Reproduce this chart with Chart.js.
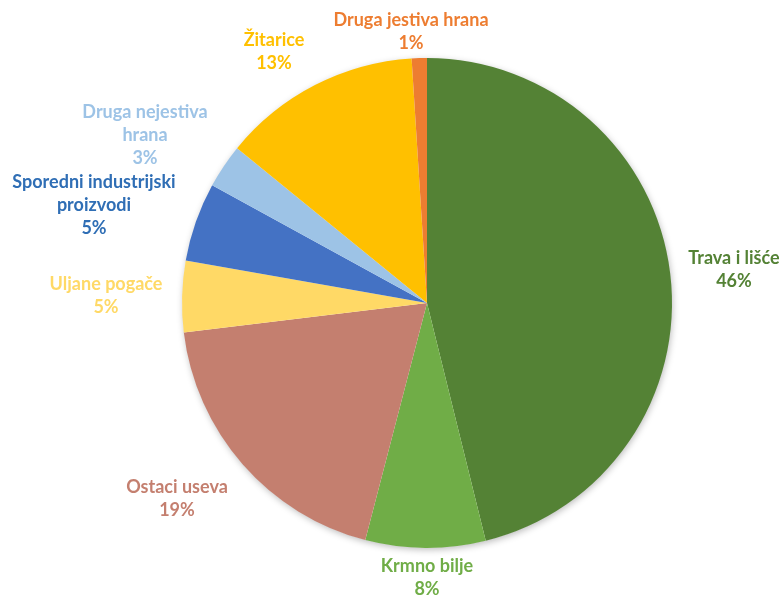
<!DOCTYPE html>
<html>
<head>
<meta charset="utf-8">
<script src="https://cdn.jsdelivr.net/npm/chart.js@4/dist/chart.umd.min.js"></script>
<style>
  html, body { margin: 0; padding: 0; background: #fff; }
  #chart { display: block; }
</style>
</head>
<body>
<canvas id="chart" width="782" height="596"></canvas>
<script>
(function () {
  'use strict';

  // ── Data ──────────────────────────────────────────────────────────────────
  var categories = [
    'Trava i lišće',
    'Krmno bilje',
    'Ostaci useva',
    'Uljane pogače',
    'Sporedni industrijski proizvodi',
    'Druga nejestiva hrana',
    'Žitarice',
    'Druga jestiva hrana'
  ];
  var shares = [46.1, 7.9, 19.0, 4.7, 5.2, 2.9, 13.1, 1.0];

  var sliceColors = ['#548235', '#70AD47', '#C47F6F', '#FFD966', '#4472C4', '#9DC3E6', '#FFC000', '#ED7D31'];
  var textColors  = ['#548235', '#70AD47', '#C47F6F', '#FFD966', '#2F6EB5', '#9DC3E6', '#FFC000', '#ED7D31'];

  // label text lines and where to put them (canvas px, centre of first line)
  var labelLines = [
    ['Trava i lišće'],
    ['Krmno bilje'],
    ['Ostaci useva'],
    ['Uljane pogače'],
    ['Sporedni industrijski', 'proizvodi'],
    ['Druga nejestiva', 'hrana'],
    ['Žitarice'],
    ['Druga jestiva hrana']
  ];
  var labelAt = [[734, 258], [427, 566], [177, 487], [106, 284], [94, 182], [145, 112], [274, 40], [411, 20]];

  var total = shares.reduce(function (a, b) { return a + b; }, 0);

  // soft shadow under the whole pie
  var shadowPlugin = {
    id: 'pieShadow',
    beforeDatasetsDraw: function (chart) {
      var arc = chart.getDatasetMeta(0).data[0];
      if (!arc) return;
      var ctx = chart.ctx;
      ctx.save();
      ctx.shadowColor = 'rgba(0,0,0,0.28)';
      ctx.shadowBlur = 7;
      ctx.shadowOffsetX = 1;
      ctx.shadowOffsetY = 2;
      ctx.fillStyle = '#fff';
      ctx.beginPath();
      ctx.arc(arc.x, arc.y, arc.outerRadius - 0.5, 0, Math.PI * 2);
      ctx.fill();
      ctx.restore();
    }
  };

  var labelPlugin = {
    id: 'sliceLabels',
    afterDatasetsDraw: function (chart) {
      var ctx = chart.ctx;
      ctx.save();
      ctx.font = 'bold 18px Lato, "Open Sans", sans-serif';
      ctx.textAlign = 'center';
      ctx.textBaseline = 'middle';
      var lh = 23;
      shares.forEach(function (v, i) {
        var lines = labelLines[i].concat([Math.round(v / total * 100) + '%']);
        ctx.fillStyle = textColors[i];
        lines.forEach(function (t, j) {
          ctx.fillText(t, labelAt[i][0], labelAt[i][1] + j * lh);
        });
      });
      ctx.restore();
    }
  };

  new Chart(document.getElementById('chart'), {
    type: 'pie',
    data: {
      labels: categories,
      datasets: [{
        data: shares,
        backgroundColor: sliceColors,
        borderWidth: 0
      }]
    },
    options: {
      responsive: false,
      animation: false,
      layout: { padding: { top: 58, bottom: 48, left: 182, right: 110 } },
      plugins: {
        legend: { display: false },
        tooltip: { enabled: false }
      }
    },
    plugins: [shadowPlugin, labelPlugin]
  });

}());
</script>
</body>
</html>
